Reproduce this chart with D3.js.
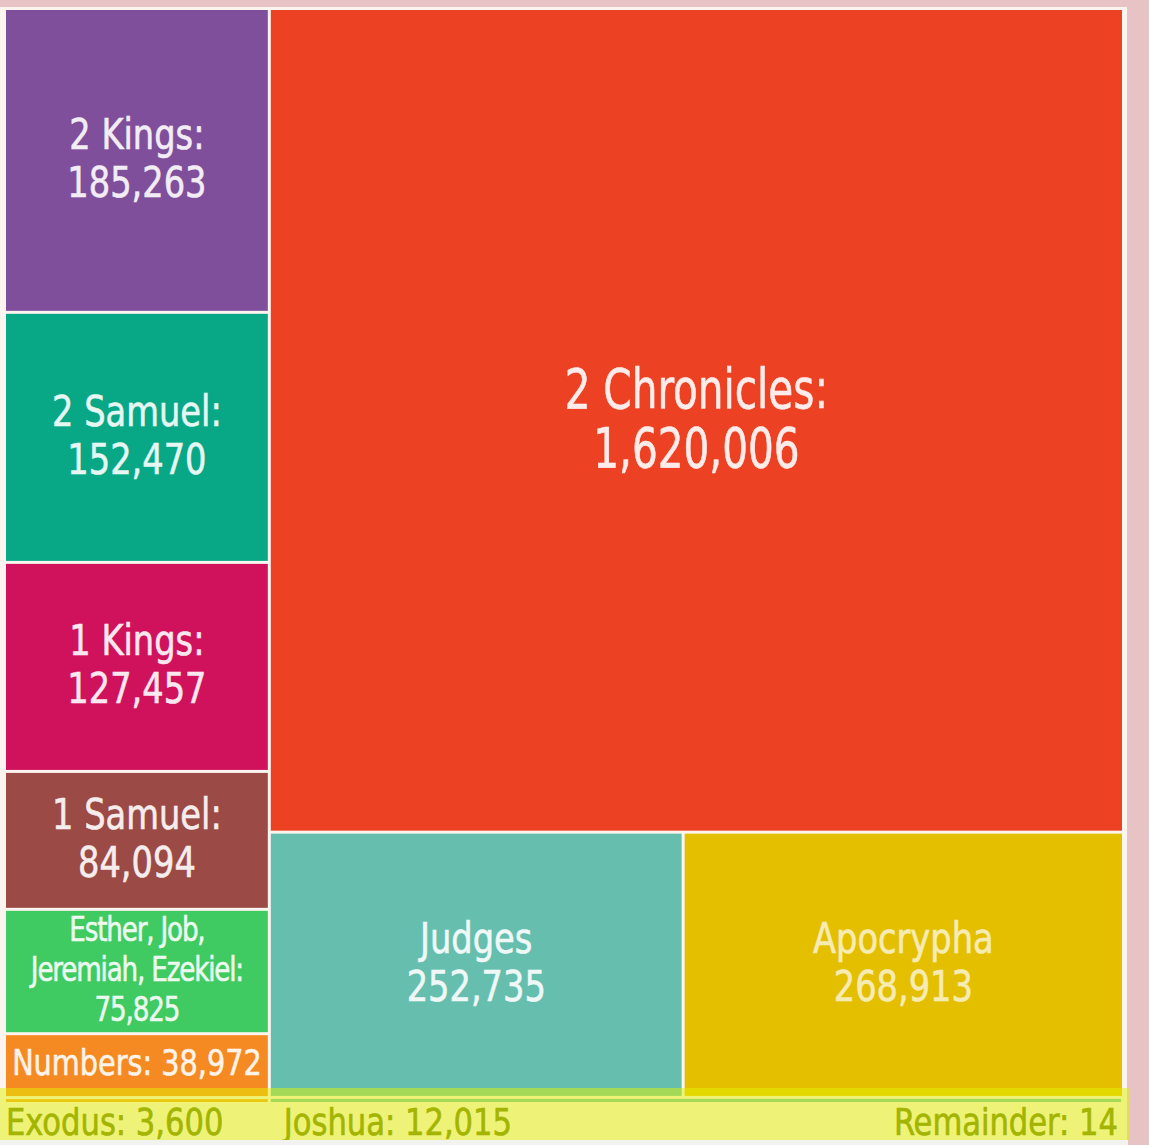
<!DOCTYPE html>
<html>
<head>
<meta charset="utf-8">
<script src="https://cdn.jsdelivr.net/npm/d3@7"></script>
<style>
  body { margin: 0; background: #e8c3c5; }
  svg { display: block; }
</style>
</head>
<body>
<svg width="1149" height="1145"></svg>
<script>
// books and their counts, grouped by the block they sit in
const sections = ["left", "left", "left", "left", "left", "left", "left", "right", "row", "row", "strip", "strip"]
const books = ["2 Kings", "2 Samuel", "1 Kings", "1 Samuel", "Esther, Job, Jeremiah, Ezekiel", "Numbers", "Exodus",
               "2 Chronicles", "Judges", "Apocrypha", "Joshua", "Remainder"]
const counts = [185263, 152470, 127457, 84094, 75825, 38972, 3600, 1620006, 252735, 268913, 12015, 14]
const colors = ["#804f9b", "#08a886", "#d0125c", "#9b4a46", "#3fcb62", "#f58a22", "#f0a020",
                "#ec4123", "#66bfae", "#e4bf00", "#66bfae", "#e4bf00"]
// label lines drawn inside the bigger cells
const labelLines = [
  ["2 Kings:", "185,263"],
  ["2 Samuel:", "152,470"],
  ["1 Kings:", "127,457"],
  ["1 Samuel:", "84,094"],
  ["Esther, Job,", "Jeremiah, Ezekiel:", "75,825"],
  ["Numbers: 38,972"],
  [],
  ["2 Chronicles:", "1,620,006"],
  ["Judges", "252,735"],
  ["Apocrypha", "268,913"],
  [], []
]
// the tiny ones get a label in the highlighted band under the chart
const smallBooks = ["Exodus", "Joshua", "Remainder"]

const svg = d3.select("svg")
const fmt = d3.format(",")

const x0 = 6, y0 = 10, w = 1116, h = 1092

const table = books.map((b, i) => ({name: b, value: counts[i], section: sections[i], color: colors[i], lines: labelLines[i]}))

const tree = {
  name: "root",
  children: [
    {name: "left", children: table.filter(d => d.section == "left")},
    {name: "right", children: [
      table.find(d => d.section == "right"),
      {name: "row", children: table.filter(d => d.section == "row")},
      {name: "strip", children: table.filter(d => d.section == "strip")}
    ]}
  ]
}

const root = d3.hierarchy(tree).sum(d => d.children ? 0 : d.value)
d3.treemap()
  .tile(d3.treemapSliceDice)
  .size([w, h])
  .paddingInner(3)
  .round(false)(root)

// background frame
svg.append("rect").attr("x", 0).attr("y", 7).attr("width", 1127).attr("height", 1138).attr("fill", "#fbf4ef")

const g = svg.append("g").attr("transform", `translate(${x0}, ${y0})`)

const leaves = root.leaves()

g.selectAll("rect.cell").data(leaves).enter().append("rect")
  .attr("class", "cell")
  .attr("x", d => d.x0)
  .attr("y", d => d.y0)
  .attr("width", d => Math.max(0, d.x1 - d.x0))
  .attr("height", d => Math.max(0, d.y1 - d.y0))
  .attr("fill", d => d.data.color)

const font = "'DejaVu Sans Condensed', 'DejaVu Sans', sans-serif"

// font size, line step and stretch of each label
const style = name => {
  if (name == "2 Chronicles") return {size: 46, step: 59, sx: 0.98, sy: 1.2}
  if (name.startsWith("Esther")) return {size: 30, step: 40, sx: 0.97, sy: 1.12}
  if (name == "Numbers") return {size: 31, step: 0, sx: 1.03, sy: 1.15}
  return {size: 36, step: 48, sx: 1.04, sy: 1.2}
}

const labels = g.selectAll("text.lbl").data(leaves.filter(d => d.data.lines.length)).enter().append("text")
  .attr("class", "lbl")
  .attr("text-anchor", "middle")
  .attr("font-family", font)
  .attr("fill", "#fff")
  .attr("stroke", "#fff")
  .attr("stroke-width", 0.5)
  .attr("opacity", d => d.data.name == "Apocrypha" ? 0.7 : 0.9)
  .attr("font-size", d => style(d.data.name).size)
  .attr("transform", d => {
    const s = style(d.data.name)
    return `translate(${(d.x0 + d.x1) / 2}, ${(d.y0 + d.y1) / 2}) scale(${s.sx}, ${s.sy})`
  })

labels.each(function(d) {
  const n = d.data.lines.length
  const s = style(d.data.name)
  d3.select(this).selectAll("tspan").data(d.data.lines).enter().append("tspan")
    .attr("x", 0)
    .attr("y", (l, i) => ((i - (n - 1) / 2) * s.step - 3) / s.sy + s.size * 0.36)
    .attr("letter-spacing", d.data.name.startsWith("Esther") ? -1.2 : 0)
    .text(l => l)
})

// highlight band over the bottom edge
svg.append("rect").attr("x", 0).attr("y", 1088).attr("width", 1129).attr("height", 52)
  .attr("fill", "#e2f200").attr("fill-opacity", 0.5)
svg.append("rect").attr("x", 0).attr("y", 1140).attr("width", 1128).attr("height", 5).attr("fill", "#f2f2f0")

const small = leaves.filter(d => smallBooks.includes(d.data.name))
g.selectAll("text.small").data(small).enter().append("text")
  .attr("class", "small")
  .attr("font-family", font)
  .attr("font-size", 34)
  .attr("fill", "#647705")
  .attr("stroke", "#647705")
  .attr("stroke-width", 0.6)
  .attr("text-anchor", d => d.data.name == "Remainder" ? "end" : "start")
  .attr("transform", d => {
    const x = d.data.name == "Remainder" ? w - 4 : d.data.name == "Joshua" ? d.x0 + 13 : d.x0
    return `translate(${x}, ${1135 - y0}) scale(1, 1.1)`
  })
  .text(d => `${d.data.name}: ${fmt(d.data.value)}`)
</script>
</body>
</html>
